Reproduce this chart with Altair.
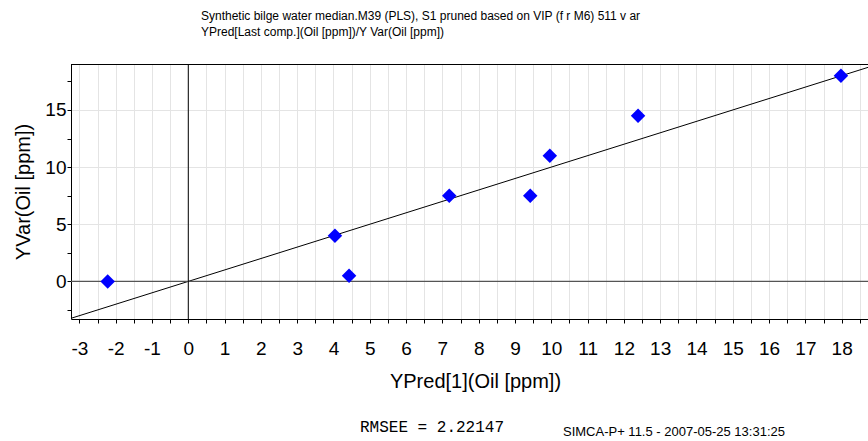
import altair as alt
import pandas as pd

# Predicted vs. measured oil content (ppm) for each sample
pred_oil = [-2.22, 4.04, 4.43, 7.19, 9.42, 9.96, 12.39, 17.98]
meas_oil = [0.0, 4.0, 0.5, 7.5, 7.5, 11.0, 14.5, 18.0]

# Ideal fit line y = x, drawn across the whole plot and clipped
fit_line = [-3.5, 19.5]

# Reference lines through the origin
zero_lines = [0.0]

# Axis tick positions (labels are shown on whole / multiple-of-5 values only)
x_ticks = [v / 2 for v in range(-6, 38)]
y_ticks = [v * 2.5 for v in range(-1, 8)]

X_DOMAIN = [-3.231, 18.725]
Y_DOMAIN = [-3.29, 19.02]

header_lines = [
    "Synthetic bilge water median.M39 (PLS), S1 pruned based on VIP (f r M6) 511 v ar",
    "YPred[Last comp.](Oil [ppm])/Y Var(Oil [ppm])",
]
rmsee_note = "RMSEE = 2.22147"
stamp_note = "SIMCA-P+ 11.5 - 2007-05-25 13:31:25"

W, H = 797, 255
SANS = "Liberation Sans, Arial, sans-serif"

points_df = pd.DataFrame({"pred": pred_oil, "meas": meas_oil})
line_df = pd.DataFrame({"pred": fit_line, "meas": fit_line})
zero_df = pd.DataFrame({"v": zero_lines})

x_scale = alt.Scale(domain=X_DOMAIN, nice=False, zero=False)
y_scale = alt.Scale(domain=Y_DOMAIN, nice=False, zero=False)

x_axis = alt.Axis(
    values=x_ticks, tickCount=len(x_ticks),
    labelExpr="datum.value % 1 === 0 ? '' + datum.value : ''",
    grid=True, gridColor="#e4e4e4", gridWidth=1,
    domainColor="black", domainWidth=1,
    tickColor="black", tickSize=4, tickWidth=1,
    labelFont=SANS, labelFontSize=19, labelColor="black",
    labelPadding=16, labelOverlap=False, labelFlush=False,
    title="YPred[1](Oil [ppm])", titleFont=SANS, titleFontSize=20,
    titleFontWeight="normal", titleColor="black",
    titleX=404, titleY=68, titleBaseline="alphabetic",
)
y_axis = alt.Axis(
    values=y_ticks, tickCount=len(y_ticks),
    labelExpr="datum.value % 5 === 0 ? '' + datum.value : ''",
    grid=True, gridColor="#e4e4e4", gridWidth=1,
    gridOpacity={"condition": {"test": "datum.value % 5 === 0", "value": 1}, "value": 0},
    domainColor="black", domainWidth=1,
    tickColor="black", tickSize=4, tickWidth=1,
    labelFont=SANS, labelFontSize=19, labelColor="black",
    labelPadding=1, labelOverlap=False, labelFlush=False,
    title="YVar(Oil [ppm])", titleFont=SANS, titleFontSize=20,
    titleFontWeight="normal", titleColor="black",
    titleX=-41.5, titleY=H / 2, titleBaseline="alphabetic", titleAngle=-90,
)

# y = x fit line
diag = alt.Chart(line_df).mark_line(color="black", strokeWidth=1, clip=True).encode(
    x=alt.X("pred:Q", scale=x_scale, axis=x_axis),
    y=alt.Y("meas:Q", scale=y_scale, axis=y_axis),
)

# Horizontal line at y = 0 and vertical line at x = 0
h_zero = alt.Chart(zero_df).mark_rule(color="#555555", strokeWidth=1.3).encode(
    y=alt.Y("v:Q", scale=y_scale)
)
v_zero = alt.Chart(zero_df).mark_rule(color="black", strokeWidth=1).encode(
    x=alt.X("v:Q", scale=x_scale)
)

# Top frame edge
top_edge = alt.Chart(zero_df).mark_rule(color="black", strokeWidth=1).encode(
    x=alt.value(0), x2=alt.value(W), y=alt.value(0.5)
)

points = alt.Chart(points_df).mark_point(
    shape="diamond", filled=True, size=210, color="#0000ff", opacity=1
).encode(
    x=alt.X("pred:Q", scale=x_scale),
    y=alt.Y("meas:Q", scale=y_scale),
)

def note(text, x, y, size, font):
    return alt.Chart(pd.DataFrame({"t": [text]})).mark_text(
        align="left", baseline="alphabetic", fontSize=size, font=font, color="black"
    ).encode(x=alt.value(x), y=alt.value(y), text="t:N")

header1 = note(header_lines[0], 130, -44, 12, SANS)
header2 = note(header_lines[1], 130, -28, 12, SANS)
rmsee = note(rmsee_note, 289, 368, 16, "Liberation Mono, Courier New, monospace")
stamp = note(stamp_note, 492, 372, 13, SANS)

chart = alt.layer(
    diag, h_zero, v_zero, top_edge, points, header1, header2, rmsee, stamp
).properties(
    width=W, height=H,
    autosize=alt.AutoSizeParams(type="none"),
    padding={"left": 71, "top": 64, "right": 0, "bottom": 122},
    background="white",
).configure_view(stroke=None)

chart.save("out.html", embed_options={"renderer": "svg", "actions": False})
